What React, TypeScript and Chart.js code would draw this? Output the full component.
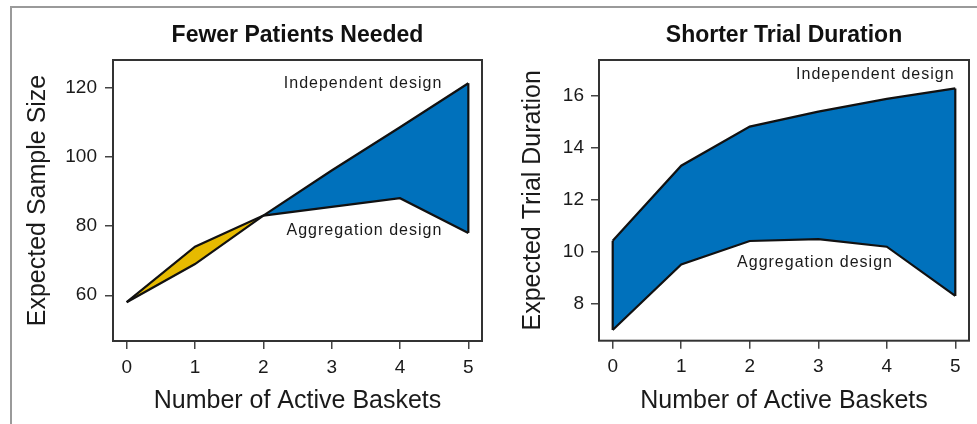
import React, { useEffect, useRef } from "react";
import { Chart, registerables } from "chart.js";

Chart.register(...registerables);

// ---------- data ----------
const baskets = [0, 1, 2, 3, 4, 5];
const xTickValues = [0, 1, 2, 3, 4, 5];

const sampleIndependent = [58, 69, 83, 96, 108.5, 121.2];
const sampleAggregation = [58, 74, 83, 85.5, 88, 78];
const sampleTicks = [60, 80, 100, 120];

const durationIndependent = [10.43, 13.31, 14.81, 15.39, 15.88, 16.28];
const durationAggregation = [7.0, 9.52, 10.42, 10.49, 10.2, 8.31];
const durationTicks = [8, 10, 12, 14, 16];

const leftTitle = "Fewer Patients Needed";
const rightTitle = "Shorter Trial Duration";
const xAxisTitle = "Number of Active Baskets";
const leftYTitle = "Expected Sample Size";
const rightYTitle = "Expected Trial Duration";
const labelIndependent = "Independent design";
const labelAggregation = "Aggregation design";

// ---------- styles ----------
const FONT = '"Liberation Sans", Arial, Helvetica, sans-serif';
const BLUE = "#0071BC";
const YELLOW = "#E6BA00";
const LINE = "#111111";
const TEXT = "#1a1a1a";

Chart.defaults.font.family = FONT;

type Note = { text: string; x: number; y: number };

function pts(values: number[]) {
  return values.map((v, i) => ({ x: baskets[i], y: v }));
}

function edgeSets(ind: number[], agg: number[]) {
  const out: any[] = [];
  [0, ind.length - 1].forEach((i) => {
    if (ind[i] !== agg[i]) {
      out.push({
        data: [
          { x: baskets[i], y: agg[i] },
          { x: baskets[i], y: ind[i] },
        ],
        borderColor: LINE,
        borderWidth: 2.2,
        pointRadius: 0,
        fill: false,
      });
    }
  });
  return out;
}

const boxPlugin = {
  id: "plotBox",
  afterDatasetsDraw(chart: any) {
    const { ctx, chartArea: a } = chart;
    ctx.save();
    ctx.strokeStyle = "#333333";
    ctx.lineWidth = 2;
    ctx.strokeRect(a.left, a.top, a.right - a.left, a.bottom - a.top);
    ctx.restore();
  },
};

function notesPlugin(items: Note[]) {
  return {
    id: "notes",
    afterDraw(chart: any) {
      const { ctx } = chart;
      const xs = chart.scales.x;
      const ys = chart.scales.y;
      ctx.save();
      ctx.font = `16px ${FONT}`;
      ctx.fillStyle = TEXT;
      ctx.textAlign = "right";
      ctx.textBaseline = "middle";
      try {
        (ctx as any).letterSpacing = "1px";
      } catch (e) {}
      items.forEach((it) => {
        ctx.fillText(it.text, xs.getPixelForValue(it.x), ys.getPixelForValue(it.y));
      });
      ctx.restore();
    },
  };
}

function makeChart(
  canvas: HTMLCanvasElement,
  cfg: {
    title: string;
    yTitle: string;
    ind: number[];
    agg: number[];
    yMin: number;
    yMax: number;
    yTicks: number[];
    yWidth: number;
    yTitlePad: number;
    yTickPad: number;
    xHeight: number;
    notes: Note[];
  }
) {
  return new Chart(canvas, {
    type: "line",
    data: {
      datasets: [
        {
          data: pts(cfg.ind),
          borderColor: LINE,
          borderWidth: 2.2,
          pointRadius: 0,
          tension: 0,
          borderJoinStyle: "miter",
          fill: { target: 1, above: BLUE, below: YELLOW },
        } as any,
        {
          data: pts(cfg.agg),
          borderColor: LINE,
          borderWidth: 2.2,
          pointRadius: 0,
          tension: 0,
          borderJoinStyle: "miter",
          fill: false,
        },
        ...edgeSets(cfg.ind, cfg.agg),
      ],
    },
    options: {
      responsive: false,
      animation: false,
      devicePixelRatio: 1,
      layout: { padding: { left: 0, right: 8, top: 0, bottom: 0 } },
      plugins: {
        legend: { display: false },
        tooltip: { enabled: false },
        filler: { drawTime: "beforeDatasetsDraw" },
        title: {
          display: true,
          text: cfg.title,
          fullSize: false,
          color: "#111111",
          font: { size: 23, weight: "bold" },
          padding: { top: 21.4, bottom: 11 },
        },
      },
      scales: {
        x: {
          type: "linear",
          min: -0.2,
          max: 5.2,
          afterBuildTicks: (s: any) => {
            s.ticks = xTickValues.map((v) => ({ value: v }));
          },
          afterFit: (s: any) => {
            s.height = cfg.xHeight;
          },
          border: { display: false },
          grid: {
            drawOnChartArea: false,
            tickLength: 8,
            color: "#444444",
            lineWidth: 1.5,
          },
          ticks: {
            padding: 7,
            color: TEXT,
            font: { size: 19 },
            maxRotation: 0,
            autoSkip: false,
          },
          title: {
            display: true,
            text: xAxisTitle,
            color: TEXT,
            font: { size: 25 },
            padding: { top: 0, bottom: 8 },
          },
        },
        y: {
          type: "linear",
          min: cfg.yMin,
          max: cfg.yMax,
          afterBuildTicks: (s: any) => {
            s.ticks = cfg.yTicks.map((v) => ({ value: v }));
          },
          afterFit: (s: any) => {
            s.width = cfg.yWidth;
          },
          border: { display: false },
          grid: {
            drawOnChartArea: false,
            tickLength: 8,
            color: "#444444",
            lineWidth: 1.5,
          },
          ticks: {
            padding: cfg.yTickPad,
            color: TEXT,
            font: { size: 19 },
            autoSkip: false,
          },
          title: {
            display: true,
            text: cfg.yTitle,
            color: TEXT,
            font: { size: 25 },
            padding: { top: cfg.yTitlePad, bottom: 0 },
          },
        },
      },
    } as any,
    plugins: [boxPlugin, notesPlugin(cfg.notes)],
  });
}

export default function App() {
  const leftRef = useRef<HTMLCanvasElement>(null);
  const rightRef = useRef<HTMLCanvasElement>(null);

  useEffect(() => {
    const left = makeChart(leftRef.current!, {
      title: leftTitle,
      yTitle: leftYTitle,
      ind: sampleIndependent,
      agg: sampleAggregation,
      yMin: 46.8,
      yMax: 127.9,
      yTicks: sampleTicks,
      yWidth: 113,
      yTitlePad: 23,
      yTickPad: 8,
      xHeight: 83,
      notes: [
        { text: labelIndependent, x: 4.62, y: 121.0 },
        { text: labelAggregation, x: 4.62, y: 78.7 },
      ],
    });
    const right = makeChart(rightRef.current!, {
      title: rightTitle,
      yTitle: rightYTitle,
      ind: durationIndependent,
      agg: durationAggregation,
      yMin: 6.59,
      yMax: 17.37,
      yTicks: durationTicks,
      yWidth: 109,
      yTitlePad: 28,
      yTickPad: 7,
      xHeight: 83.3,
      notes: [
        { text: labelIndependent, x: 4.99, y: 16.81 },
        { text: labelAggregation, x: 4.09, y: 9.6 },
      ],
    });
    return () => {
      left.destroy();
      right.destroy();
    };
  }, []);

  return (
    <div
      style={{
        position: "absolute",
        left: 0,
        top: 0,
        width: 977,
        height: 424,
        overflow: "hidden",
        background: "#ffffff",
      }}
    >
      <div
        style={{
          position: "absolute",
          left: 10,
          top: 6,
          width: 980,
          height: 430,
          borderLeft: "2px solid #9a9a9a",
          borderTop: "2px solid #9a9a9a",
        }}
      />
      <canvas
        ref={leftRef}
        width={490}
        height={424}
        style={{ position: "absolute", left: 0, top: 0 }}
      />
      <canvas
        ref={rightRef}
        width={487}
        height={424}
        style={{ position: "absolute", left: 490, top: 0 }}
      />
    </div>
  );
}
